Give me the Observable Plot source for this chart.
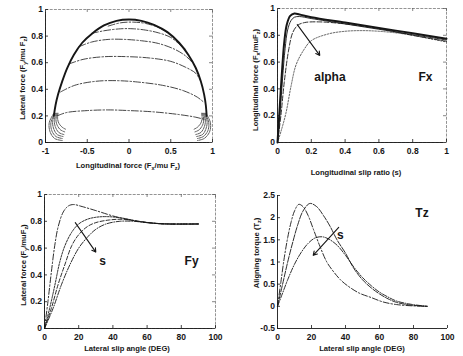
<!DOCTYPE html>
<html><head><meta charset="utf-8">
<script src="https://cdn.jsdelivr.net/npm/d3@7"></script>
<script src="https://cdn.jsdelivr.net/npm/@observablehq/plot@0.6"></script>
<style>
html,body{margin:0;padding:0;background:#fff;}
#fig{position:relative;width:463px;height:356px;background:#fff;overflow:hidden;}
#fig svg{position:absolute;}
</style></head><body><div id="fig"></div>
<script>
// ---------- Panel 1: friction ellipse (Fy vs Fx) ----------
const fcTicksX = [-1, -0.5, 0, 0.5, 1];
const fcTicksY = [0, 0.2, 0.4, 0.6, 0.8, 1];
const fcEnvelope = [[-0.90,0.20],[-0.88,0.28],[-0.85,0.36],[-0.80,0.46],[-0.74,0.56],[-0.66,0.66],[-0.56,0.75],[-0.44,0.82],[-0.30,0.88],[-0.15,0.915],[0,0.925],[0.15,0.915],[0.30,0.885],[0.46,0.83],[0.60,0.75],[0.71,0.66],[0.80,0.56],[0.86,0.46],[0.90,0.36],[0.92,0.28],[0.93,0.20]];
const fcArcs = [
  [[-0.25,0.875],[-0.1,0.9],[0.05,0.905],[0.2,0.895],[0.35,0.865],[0.45,0.83]],
  [[-0.45,0.82],[-0.3,0.84],[-0.1,0.855],[0.05,0.855],[0.2,0.845],[0.35,0.825],[0.5,0.79],[0.62,0.73],[0.68,0.70]],
  [[-0.6,0.72],[-0.45,0.755],[-0.25,0.775],[-0.05,0.775],[0.15,0.765],[0.35,0.745],[0.55,0.70],[0.68,0.65],[0.76,0.60]],
  [[-0.72,0.59],[-0.55,0.625],[-0.3,0.645],[0,0.645],[0.25,0.635],[0.5,0.61],[0.68,0.565],[0.80,0.52],[0.85,0.47]],
  [[-0.82,0.38],[-0.65,0.43],[-0.4,0.46],[-0.15,0.465],[0.1,0.455],[0.4,0.43],[0.65,0.39],[0.82,0.34],[0.90,0.30]],
  [[-0.86,0.2],[-0.75,0.225],[-0.5,0.24],[-0.25,0.245],[0,0.24],[0.3,0.23],[0.6,0.21],[0.8,0.19],[0.92,0.17]]
];
const fcCornerLeft = [
  [[-0.90,0.22],[-0.955,0.15],[-0.945,0.08],[-0.89,0.03],[-0.80,0.015]],
  [[-0.89,0.22],[-0.935,0.15],[-0.925,0.09],[-0.875,0.045],[-0.80,0.03]],
  [[-0.88,0.22],[-0.915,0.16],[-0.90,0.10],[-0.86,0.06],[-0.79,0.045]],
  [[-0.87,0.22],[-0.895,0.165],[-0.88,0.115],[-0.84,0.075],[-0.78,0.06]],
  [[-0.86,0.22],[-0.875,0.17],[-0.86,0.13],[-0.82,0.095],[-0.77,0.08]],
  [[-0.85,0.22],[-0.855,0.18],[-0.84,0.145],[-0.80,0.115],[-0.76,0.10]]
];
const fcCornerRight = [
  [[0.92,0.22],[0.975,0.15],[0.965,0.08],[0.90,0.03],[0.82,0.015]],
  [[0.91,0.22],[0.955,0.15],[0.945,0.09],[0.89,0.045],[0.82,0.03]],
  [[0.90,0.22],[0.935,0.16],[0.92,0.10],[0.88,0.06],[0.81,0.045]],
  [[0.89,0.22],[0.915,0.165],[0.90,0.115],[0.86,0.075],[0.80,0.06]],
  [[0.88,0.22],[0.895,0.17],[0.88,0.13],[0.84,0.095],[0.79,0.08]],
  [[0.87,0.22],[0.875,0.18],[0.86,0.145],[0.82,0.115],[0.78,0.10]]
];

// ---------- Panel 2: Fx vs slip ratio ----------
const fxTicksX = [0, 0.2, 0.4, 0.6, 0.8, 1];
const fxTicksY = [0, 0.2, 0.4, 0.6, 0.8, 1];
const fxCurveA = [[0,0],[0.01,0.2],[0.025,0.5],[0.04,0.75],[0.055,0.88],[0.075,0.945],[0.1,0.962],[0.13,0.955],[0.2,0.935],[0.4,0.895],[0.6,0.855],[0.8,0.815],[1,0.775]];
const fxCurveB = [[0,0],[0.015,0.22],[0.03,0.48],[0.045,0.7],[0.06,0.84],[0.08,0.91],[0.1,0.935],[0.13,0.94],[0.2,0.925],[0.4,0.885],[0.6,0.845],[0.8,0.805],[1,0.765]];
const fxCurveC = [[0,0],[0.02,0.2],[0.04,0.45],[0.066,0.69],[0.09,0.82],[0.12,0.875],[0.16,0.895],[0.25,0.9],[0.4,0.885],[0.6,0.85],[0.8,0.8],[1,0.755]];
const fxCurveD = [[0,0],[0.02,0.08],[0.05,0.22],[0.08,0.42],[0.11,0.58],[0.155,0.69],[0.2,0.76],[0.3,0.81],[0.4,0.83],[0.5,0.835],[0.6,0.83],[0.75,0.81],[1,0.75]];
const fxArrow = [{x1:0.117, y1:0.88, x2:0.25, y2:0.65}];
const fxNotes = [{x:0.31, y:0.49, text:"alpha"}, {x:0.875, y:0.49, text:"Fx"}];

// ---------- Panel 3: Fy vs slip angle ----------
const fyTicksX = [0, 20, 40, 60, 80, 100];
const fyTicksY = [0, 0.2, 0.4, 0.6, 0.8, 1];
const fyCurve1 = [[0,0],[2,0.2],[4,0.42],[6,0.62],[8,0.76],[11,0.87],[14,0.915],[17,0.925],[22,0.91],[30,0.88],[40,0.84],[50,0.81],[60,0.79],[70,0.78],[80,0.78],[90,0.78]];
const fyCurve2 = [[0,0],[3,0.15],[6,0.32],[9,0.5],[12,0.62],[16,0.72],[20,0.78],[25,0.815],[30,0.83],[36,0.835],[45,0.825],[55,0.80],[65,0.785],[75,0.78],[90,0.78]];
const fyCurve3 = [[0,0],[4,0.15],[8,0.33],[12,0.48],[16,0.62],[20,0.7],[25,0.76],[30,0.79],[38,0.81],[46,0.815],[55,0.80],[65,0.785],[75,0.78],[90,0.78]];
const fyCurve4 = [[0,0],[5,0.15],[10,0.33],[15,0.48],[20,0.6],[25,0.68],[30,0.74],[36,0.78],[44,0.8],[52,0.8],[60,0.79],[70,0.78],[90,0.78]];
const fyArrow = [{x1:18, y1:0.79, x2:30, y2:0.57}];
const fyNotes = [{x:34, y:0.5, text:"s"}, {x:86, y:0.5, text:"Fy"}];

// ---------- Panel 4: Tz vs slip angle ----------
const tzTicksX = [0, 20, 40, 60, 80, 100];
const tzTicksY = [-0.5, 0, 0.5, 1, 1.5, 2, 2.5];
const tzCurveA = [[0,0],[2,0.55],[4,1.1],[6,1.55],[8,1.9],[10,2.15],[12.5,2.3],[15,2.25],[18,2.05],[21,1.75],[25,1.35],[29,1.0],[33,0.78],[37,0.6],[41,0.47],[48,0.3],[55,0.2],[62,0.1],[70,0.04],[80,0.01],[88,0]];
const tzCurveB = [[0,0],[3,0.5],[6,1.0],[9,1.45],[12,1.85],[15,2.15],[19,2.32],[23,2.25],[27,2.05],[31,1.8],[35,1.5],[40,1.2],[45,0.85],[50,0.6],[55,0.42],[60,0.28],[65,0.17],[70,0.09],[78,0.03],[88,0]];
const tzCurveC = [[0,0],[3,0.3],[6,0.6],[10,0.95],[14,1.22],[18,1.42],[22,1.54],[26,1.57],[30,1.52],[35,1.38],[40,1.15],[45,0.88],[50,0.65],[55,0.47],[60,0.32],[65,0.21],[70,0.12],[78,0.05],[88,0]];
const tzArrow = [{x1:36, y1:1.78, x2:21, y2:1.15}];
const tzNotes = [{x:37, y:1.6, text:"s"}, {x:85, y:2.1, text:"Tz"}];

// ---------- helpers ----------
const FONT = "Arial, 'Liberation Sans', sans-serif";
const INK = "#161616";
const fig = document.getElementById("fig");
const rows = (pts, id) => pts.map(([x, y]) => ({x, y, id}));
const group = (list) => list.flatMap((pts, i) => rows(pts, i));
const line = (data, o) => Plot.line(data, {x:"x", y:"y", z:"id", curve:"catmull-rom", stroke:INK, strokeWidth:0.9, ...o});

function panel({left, top, width, height, m, xDomain, yDomain, xTicks, yTicks, frame, marks}) {
  const fw = width - m[1] - m[3], fh = height - m[0] - m[2];
  const fmt = d => String(d);
  const svg = Plot.plot({
    width, height, marginTop:m[0], marginRight:m[1], marginBottom:m[2], marginLeft:m[3],
    style:{background:"transparent", fontFamily:FONT, fontSize:"8.5px", fontWeight:"bold", color:INK, overflow:"visible"},
    x:{domain:xDomain, label:null},
    y:{domain:yDomain, label:null},
    marks:[
      frame ? Plot.frame({stroke:"#666", strokeWidth:0.7, strokeDasharray:"3,1.2"}) : null,
      Plot.ruleX([xDomain[0]], {stroke:INK, strokeWidth:0.9}),
      Plot.ruleY([yDomain[0]], {stroke:INK, strokeWidth:0.9}),
      Plot.tickX(xTicks, {x:d=>d, insetTop:fh-3, stroke:INK, strokeWidth:0.8}),
      Plot.tickY(yTicks, {y:d=>d, insetRight:fw-3, stroke:INK, strokeWidth:0.8}),
      frame ? Plot.tickX(xTicks, {x:d=>d, insetBottom:fh-3, stroke:"#555", strokeWidth:0.7}) : null,
      frame ? Plot.tickY(yTicks, {y:d=>d, insetLeft:fw-3, stroke:"#555", strokeWidth:0.7}) : null,
      Plot.axisX({ticks:xTicks, tickFormat:fmt, tickSize:0, tickPadding:5, label:null}),
      Plot.axisY({ticks:yTicks, tickFormat:fmt, tickSize:0, tickPadding:2.5, label:null}),
      ...marks
    ]
  });
  svg.style.left = left + "px";
  svg.style.top = top + "px";
  fig.appendChild(svg);
  return svg;
}

function addLabel(svg, x, y, parts, rotate, size) {
  const t = d3.select(svg).append("text")
    .attr("transform", `translate(${x},${y}) rotate(${rotate})`)
    .attr("text-anchor", "middle")
    .attr("font-family", FONT).attr("font-size", size).attr("font-weight", "bold").attr("fill", INK);
  let shifted = false;
  for (const [s, sub] of parts) {
    const ts = t.append("tspan").text(s);
    if (sub) { ts.attr("font-size", size * 0.72); if (!shifted) { ts.attr("dy", 2); shifted = true; } }
    else if (shifted) { ts.attr("dy", -2); shifted = false; }
  }
}

const noteText = (data) => Plot.text(data, {x:"x", y:"y", text:"text", fontSize:12, fontWeight:"bold", fill:INK, fontFamily:FONT});
const arrow = (data) => Plot.arrow(data, {x1:"x1", y1:"y1", x2:"x2", y2:"y2", stroke:INK, strokeWidth:1.1, headLength:6});

// ---------- Panel 1 ----------
const p1 = panel({left:0, top:0, width:232, height:180, m:[9,20,38,45],
  xDomain:[-1,1], yDomain:[0,1], xTicks:fcTicksX, yTicks:fcTicksY, frame:true,
  marks:[
    line(group(fcCornerLeft), {strokeWidth:0.7, strokeDasharray:"2.5,1"}),
    line(group(fcCornerRight), {strokeWidth:0.7, strokeDasharray:"2.5,1"}),
    line(group(fcArcs), {strokeWidth:0.8, strokeDasharray:"7,2,1.5,2"}),
    line(rows(fcEnvelope, 0), {strokeWidth:1.9})
  ]});
addLabel(p1, 128, 168, [["Longitudinal force (F"],["x",1],["/mu F"],["z",1],[")"]], 0, 7.6);
addLabel(p1, 25, 78, [["Lateral force (F"],["y",1],["/mu F"],["z",1],[")"]], -90, 7.6);

// ---------- Panel 2 ----------
const p2 = panel({left:232, top:0, width:231, height:180, m:[8,17,38,45],
  xDomain:[0,1], yDomain:[0,1], xTicks:fxTicksX, yTicks:fxTicksY, frame:true,
  marks:[
    line(rows(fxCurveD, 0), {strokeWidth:0.8, strokeDasharray:"1.5,1.5", stroke:"#333"}),
    line(rows(fxCurveC, 0), {strokeWidth:0.9, strokeDasharray:"5,2"}),
    line(rows(fxCurveB, 0), {strokeWidth:0.9}),
    line(rows(fxCurveA, 0), {strokeWidth:2}),
    arrow(fxArrow),
    noteText(fxNotes)
  ]});
addLabel(p2, 124, 175, [["Longitudinal slip ratio (s)"]], 0, 7.6);
addLabel(p2, 26, 80, [["Longitudinal force (F"],["x",1],["/muF"],["z",1],[")"]], -90, 7.6);

// ---------- Panel 3 ----------
const p3 = panel({left:0, top:180, width:232, height:176, m:[14,17,28,44],
  xDomain:[0,100], yDomain:[0,1], xTicks:fyTicksX, yTicks:fyTicksY, frame:true,
  marks:[
    line(rows(fyCurve4, 0), {strokeDasharray:"5,1.5,1,1.5"}),
    line(rows(fyCurve3, 0), {strokeDasharray:"4,2"}),
    line(rows(fyCurve2, 0), {strokeDasharray:"2,1.2"}),
    line(rows(fyCurve1, 0), {strokeDasharray:"6,2,1.5,2"}),
    arrow(fyArrow),
    noteText(fyNotes)
  ]});
addLabel(p3, 127, 171, [["Lateral slip angle (DEG)"]], 0, 7.6);
addLabel(p3, 26, 85, [["Lateral force (F"],["y",1],["/muF"],["z",1],[")"]], -90, 7.6);

// ---------- Panel 4 ----------
const p4 = panel({left:232, top:180, width:231, height:176, m:[15,16,28,45],
  xDomain:[0,100], yDomain:[-0.5,2.5], xTicks:tzTicksX, yTicks:tzTicksY, frame:false,
  marks:[
    line(rows(tzCurveC, 0), {strokeDasharray:"5,1.5,1,1.5"}),
    line(rows(tzCurveB, 0), {strokeDasharray:"6,1.5"}),
    line(rows(tzCurveA, 0), {strokeDasharray:"6,2,1.5,2"}),
    arrow(tzArrow),
    noteText(tzNotes)
  ]});
addLabel(p4, 130, 171, [["Lateral slip angle (DEG)"]], 0, 7.6);
addLabel(p4, 27, 73, [["Aligning torque (T"],["z",1],[")"]], -90, 7.6);
</script></body></html>
